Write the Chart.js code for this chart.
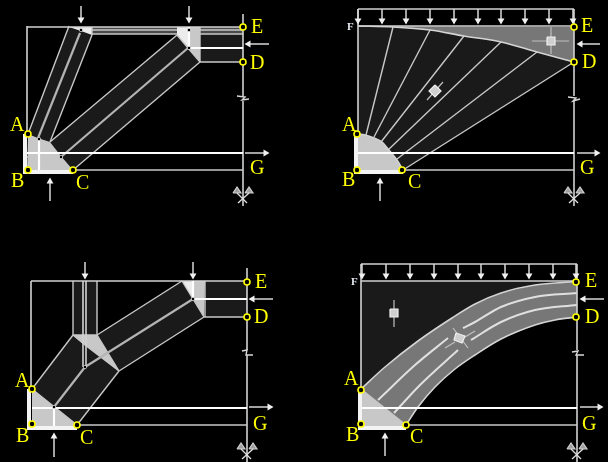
<!DOCTYPE html>
<html>
<head>
<meta charset="utf-8">
<title>Strut and tie models</title>
<style>
  html, body { margin: 0; padding: 0; background: #000; }
  canvas { display: block; filter: blur(0.35px); }
</style>
<script src="https://cdn.jsdelivr.net/npm/chart.js@4/dist/chart.umd.min.js"></script>
</head>
<body>
<canvas id="chart" width="608" height="462"></canvas>
<script>
// polygons (x, y)
const fillDark = [
  [[28,134],[69,26],[92,35],[50,142]],
  [[50,142],[177,35],[200,62],[73,170]],
  [[200,34],[243,34],[243,62],[200,62]],
  [[358,26],[393,27],[430,30],[464,36],[501,42],[537,52],[574,62],[403,170],[397,160],[388,149],[382,142],[374,138],[365,135],[358,134]],
  [[73,281],[97,281],[97,335],[73,335]],
  [[32,389],[73,335],[119,371],[77,425]],
  [[97,335],[182,281],[204,317],[119,371]],
  [[205,281],[247,281],[247,317],[205,317]],
  [[361,281],[577,281],[568,282],[535,285],[501,293],[475,304],[452,318],[418,341],[385,367],[361,389]]
];
const fillBand = [
  [[92,27],[177,27],[177,34],[92,34]],
  [[200,27],[243,27],[243,34],[200,34]]
];
const fillGray = [
  [[358,26],[574,27],[574,62],[537,52],[501,42],[464,36],[430,30],[393,27]],
  [[361,389],[385,367],[418,341],[452,318],[475,304],[501,293],[535,285],[568,282],[577,281],[577,317],[555,320],[535,325],[501,339],[475,355],[455,369],[435,387],[418,407],[406,425]]
];
const fillNode = [
  [[28,134],[38,138],[50,142],[61,156],[73,170],[73,172],[27,172]],
  [[177,27],[200,27],[200,62],[188,48],[177,35]],
  [[358,134],[365,135],[374,138],[382,142],[388,149],[397,160],[403,170],[403,172],[358,172]],
  [[73,335],[97,335],[119,371],[102,358],[85,345]],
  [[182,281],[205,281],[204,317],[193,299]],
  [[32,389],[77,425],[77,427],[32,427]],
  [[361,389],[406,425],[406,427],[361,427]]
];
const fillLight = [
  [[69,27],[92,27],[92,35],[81,31]],
  [[177,27],[189,27],[189,48],[177,35]],
  [[182,281],[193,281],[193,299]]
];

// left columns and bottom plates of the nodes
const lineThick = [
  [[25,134],[25,174]],
  [[25,172],[73,172]],
  [[356,134],[356,174]],
  [[354,172],[403,172]],
  [[29,389],[29,430]],
  [[27,428],[77,428]],
  [[360,389],[360,430]],
  [[358,428],[406,428]]
];
// heavy white strokes
const lineWhite = [
  [[27,153],[243,153]],
  [[39,138],[39,172]],
  [[189,27],[189,48]],
  [[189,48],[243,48]],
  [[358,153],[574,153]],
  [[32,408],[247,408]],
  [[54,407],[54,427]],
  [[193,281],[193,299]],
  [[193,299],[247,299]],
  [[361,408],[577,408]]
];
// centre lines of the struts
const lineCentre = [
  [[80,33],[38,138]],
  [[188,48],[61,157]],
  [[54,407],[85,367]],
  [[85,367],[193,299]]
];
// lighter members and outlines
const lineLight = [
  [[27,27],[243,27]],
  [[27,26],[27,134]],
  [[243,14],[243,96]],
  [[243,101],[243,206]],
  [[358,9],[574,9]],
  [[358,9],[358,134]],
  [[358,26],[574,26]],
  [[574,9],[574,96]],
  [[574,101],[574,206]],
  [[31,281],[247,281]],
  [[31,281],[31,389]],
  [[247,268],[247,350]],
  [[247,355],[247,462]],
  [[83,281],[83,367]],
  [[86,281],[86,367]],
  [[361,264],[577,264]],
  [[361,264],[361,389]],
  [[577,264],[577,350]],
  [[577,355],[577,462]],
  [[361,281],[577,281]]
];
const lineThin = [
  [[28,134],[69,26]],
  [[92,35],[50,142]],
  [[50,142],[177,35]],
  [[200,62],[73,170]],
  [[177,35],[188,48],[200,62]],
  [[200,27],[200,62]],
  [[92,27],[92,35]],
  [[92,30],[177,30]],
  [[92,34],[177,34]],
  [[200,30],[243,30]],
  [[200,34],[243,34]],
  [[200,62],[243,62]],
  [[73,170],[243,170]],
  [[27,157],[61,157]],
  [[393,27],[366,135]],
  [[430,30],[374,137]],
  [[464,36],[381,142]],
  [[501,42],[388,150]],
  [[537,52],[397,159]],
  [[574,62],[403,170]],
  [[403,170],[574,170]],
  [[73,281],[73,335]],
  [[97,281],[97,335]],
  [[73,335],[97,335],[119,371]],
  [[73,335],[32,389]],
  [[119,371],[77,425]],
  [[97,335],[182,281]],
  [[119,371],[204,317]],
  [[182,281],[193,299],[204,317]],
  [[205,281],[205,317]],
  [[204,317],[247,317]],
  [[32,389],[77,425]],
  [[77,425],[247,425]],
  [[361,389],[406,425]],
  [[406,425],[577,425]],
  [[73,335],[85,345],[102,358],[119,371]]
];
// smooth curves of the two right hand panels
const curves = [
  [[358,26],[393,27],[430,30],[464,36],[501,42],[537,52],[574,62]],
  [[358,134],[365,135],[374,138],[382,142],[388,149],[397,160],[403,170]],
  [[361,389],[385,367],[418,341],[452,318],[475,304],[501,293],[535,285],[568,282],[577,281]],
  [[406,425],[418,407],[435,387],[455,369],[475,355],[501,339],[535,325],[555,320],[577,317]]
];
const innerCurves = [
  [[378,400],[415,365],[448,338]],
  [[463,328],[475,322],[501,307],[535,297],[577,293]],
  [[394,413],[420,385],[458,350]],
  [[471,340],[501,322],[535,310],[577,305]]
];

// break marks in the vertical axes
const breakMarks = [
  [[237,96],[245,97],[242,100],[249,99]],
  [[568,97],[576,98],[573,101],[580,99]],
  [[242,351],[247,350],[246,355],[253,355]],
  [[572,352],[578,351],[576,355],[584,355]]
];
// little supports under the axes
const supportX = [243, 574, 247, 577];
const supportY = [187, 187, 443, 443];
const supportCross = [[[-6,6],[4,16]], [[6,6],[-5,16]]];
const supportCap = [[[-10,6],[-6,0],[-2,6],[-10,6]], [[2,6],[6,0],[10,6],[2,6]]];

// reaction and load arrows: tail x, tail y, tip x, tip y
const arrows = [
  [81,6,81,23],[189,6,189,23],[269,44,245,44],[50,201,50,178],[245,153,269,153],
  [600,44,577,44],[380,201,380,178],[577,153,600,153],
  [85,262,85,279],[193,262,193,279],[273,299,249,299],[54,457,54,433],[249,407,273,407],
  [604,299,580,299],[385,456,385,433],[580,407,603,407]
];
const loadXTop = [358, 382, 406, 430, 454, 478, 501, 525, 549, 573];
const loadXBottom = [362, 386, 410, 434, 458, 481, 505, 529, 553, 576];

// stress elements, small squares with their arms
const elements = [
  [[435,85],[441,91],[435,97],[429,91]],
  [[547,37],[555,37],[555,45],[547,45]],
  [[390,309],[398,309],[398,317],[390,317]],
  [[456,333],[465,336],[462,343],[454,340]]
];
const elementArms = [
  [[443,82],[427,100]],
  [[532,41],[569,41]],
  [[551,27],[551,54]],
  [[394,300],[394,327]],
  [[453,328],[468,348]],
  [[445,348],[455,342]],
  [[465,337],[475,331]]
];

// joints
const rings = [[28,134],[28,170],[73,170],[243,27],[243,62],[357,134],[357,170],[402,170],[574,27],[574,62],
  [32,389],[32,424],[77,425],[247,282],[247,317],[361,390],[361,424],[406,425],[576,282],[576,317]];
const dots = [[81,30],[189,30],[189,48],[39,139],[61,157],[85,367],[54,407],[193,299]];

// lettering
const labelText = ["A","B","C","D","E","G", "A","B","C","D","E","G", "A","B","C","D","E","G", "A","B","C","D","E","G"];
const labelX = [10,11,76,250,251,250, 342,342,408,582,581,580, 15,16,80,254,255,253, 344,346,410,585,585,582];
const labelY = [131,187,189,69,33,174, 131,186,188,68,32,174, 387,442,444,323,288,430, 385,441,443,323,287,430];
const forceText = ["F", "F"];
const forceX = [347, 351];
const forceY = [30, 285];

const xy = (pts) => pts.map((p) => ({ x: p[0], y: p[1] }));

const datasets = [];

function addFill(pts, color) {
  datasets.push({
    data: xy(pts.concat([pts[0]])),
    showLine: true,
    fill: "shape",
    backgroundColor: color,
    borderWidth: 0,
    borderColor: color,
    pointRadius: 0,
  });
}

function addLine(pts, width, color, smooth) {
  datasets.push({
    data: xy(pts),
    showLine: true,
    fill: false,
    borderColor: color,
    borderWidth: width,
    cubicInterpolationMode: smooth ? "monotone" : "default",
    pointRadius: 0,
  });
}

function addArrow(a) {
  const len = Math.hypot(a[2] - a[0], a[3] - a[1]);
  const ux = (a[2] - a[0]) / len;
  const uy = (a[3] - a[1]) / len;
  const head = { x: a[2] - ux * 3.5, y: a[3] - uy * 3.5 };
  datasets.push({
    data: [{ x: a[0], y: a[1] }, head],
    showLine: true,
    fill: false,
    borderColor: "#d8d8d8",
    backgroundColor: "#f0f0f0",
    borderWidth: 1.5,
    pointStyle: "triangle",
    pointRadius: [0, 4],
    pointBorderWidth: 0,
    pointRotation: (Math.atan2(uy, ux) * 180) / Math.PI + 90,
  });
}

fillDark.forEach((p) => addFill(p, "#1a1a1a"));
fillBand.forEach((p) => addFill(p, "#4a4a4a"));
fillGray.forEach((p) => addFill(p, "#777777"));
fillNode.forEach((p) => addFill(p, "#c8c8c8"));
fillLight.forEach((p) => addFill(p, "#ececec"));
lineThin.forEach((p) => addLine(p, 1.4, "#c8c8c8"));
lineCentre.forEach((p) => addLine(p, 2.2, "#b4b4b4"));
curves.forEach((p) => addLine(p, 1.6, "#d4d4d4", true));
innerCurves.forEach((p) => addLine(p, 2, "#e0e0e0", true));
lineLight.forEach((p) => addLine(p, 1.6, "#d2d2d2"));
lineWhite.forEach((p) => addLine(p, 2.2, "#ffffff"));
lineThick.forEach((p) => addLine(p, 4, "#f4f4f4"));
breakMarks.forEach((p) => addLine(p, 1.4, "#d8d8d8"));
supportX.forEach((x, i) => {
  supportCap.forEach((c) => {
    const pts = c.map((p) => [x + p[0], supportY[i] + p[1]]);
    addFill(pts, "#a0a0a0");
    addLine(pts, 1.2, "#d0d0d0");
  });
  supportCross.forEach((c) => {
    addLine(c.map((p) => [x + p[0], supportY[i] + p[1]]), 1.3, "#e0e0e0");
  });
});
arrows.forEach(addArrow);
loadXTop.forEach((x) => addArrow([x, 9, x, 24]));
loadXBottom.forEach((x) => addArrow([x, 264, x, 279]));
elementArms.forEach((p) => addLine(p, 1.2, "#c0c0c0"));
elements.forEach((p) => {
  addFill(p, "#cfcfcf");
  addLine(p.concat([p[0]]), 1.2, "#efefef");
});
datasets.push({
  data: xy(dots),
  showLine: false,
  pointRadius: 1.7,
  backgroundColor: "#000000",
  borderColor: "#ffffff",
  pointBorderWidth: 0.6,
});
datasets.push({
  data: xy(rings),
  showLine: false,
  pointRadius: 3,
  backgroundColor: "#000000",
  borderColor: "#ffff00",
  pointBorderWidth: 1.6,
});

// draws the letters through the same scales as the marks
const lettering = {
  id: "lettering",
  afterDatasetsDraw(chart) {
    const c = chart.ctx;
    const sx = chart.scales.x;
    const sy = chart.scales.y;
    c.save();
    c.textAlign = "left";
    c.textBaseline = "alphabetic";
    c.font = '20px "Liberation Serif"';
    c.fillStyle = "#ffff00";
    labelText.forEach((t, i) => {
      c.fillText(t, sx.getPixelForValue(labelX[i]), sy.getPixelForValue(labelY[i]));
    });
    c.font = 'bold 11px "Liberation Serif"';
    c.fillStyle = "#e4e8f0";
    forceText.forEach((t, i) => {
      c.fillText(t, sx.getPixelForValue(forceX[i]), sy.getPixelForValue(forceY[i]));
    });
    c.restore();
  },
};

// chart draws the first dataset last, so paint order is reversed here
new Chart(document.getElementById("chart").getContext("2d"), {
  type: "scatter",
  data: { datasets: datasets.reverse() },
  options: {
    responsive: false,
    animation: false,
    clip: false,
    layout: { padding: 0, autoPadding: false },
    plugins: { legend: { display: false }, tooltip: { enabled: false } },
    events: [],
    scales: {
      x: { type: "linear", min: 0, max: 608, display: false },
      y: { type: "linear", min: 0, max: 462, reverse: true, display: false },
    },
  },
  plugins: [lettering],
});
</script>
</body>
</html>
